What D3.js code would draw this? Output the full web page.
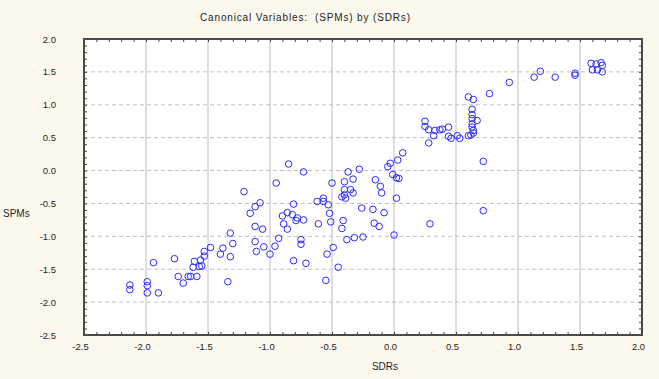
<!DOCTYPE html>
<html><head><meta charset="utf-8">
<script src="https://cdn.jsdelivr.net/npm/d3@7"></script>
<style>html,body{margin:0;padding:0;background:#fdf8ee;} svg{display:block;}</style>
</head><body><svg id="c" width="659" height="379"></svg>
<script>
const title = "Canonical Variables:  (SPMs) by (SDRs)";
const xLabel = "SDRs";
const yLabel = "SPMs";
const xTickValues = [-2.5, -2.0, -1.5, -1.0, -0.5, 0.0, 0.5, 1.0, 1.5, 2.0];
const yTickValues = [-2.5, -2.0, -1.5, -1.0, -0.5, 0.0, 0.5, 1.0, 1.5, 2.0];
// canonical scores: SDRs (x) and SPMs (y)
const sdrs = [-0.85,-0.95,-1.21,-1.08,-1.12,-1.16,-0.81,-0.86,-0.90,-0.82,-0.78,-0.79,-0.89,-0.86,-1.12,-1.06,-1.32,-1.30,-1.38,-1.40,
  -1.32,-1.48,-1.53,-1.53,-1.56,-1.61,-1.62,-1.57,-1.55,-1.77,-1.94,-1.12,-1.05,-1.11,-1.00,-0.96,-0.93,-0.81,-1.74,-1.66,
  -1.64,-1.59,-1.70,-1.34,-2.13,-2.13,-1.99,-1.99,-1.99,-1.90,
  -0.73,-0.37,-0.28,-0.50,-0.40,-0.33,-0.40,-0.40,-0.42,-0.39,-0.35,-0.33,-0.15,-0.11,-0.10,-0.05,-0.03,0.03,0.07,-0.01,
  0.02,0.04,0.02,0.28,-0.57,-0.57,-0.62,-0.53,-0.26,-0.17,-0.08,-0.52,-0.73,-0.61,-0.51,-0.41,-0.42,-0.16,-0.12,0.29,
  0.00,-0.25,-0.32,-0.38,-0.75,-0.75,-0.49,-0.54,-0.71,-0.45,-0.55,
  0.72,0.72,0.25,0.25,0.28,0.32,0.33,0.37,0.39,0.44,0.44,0.46,0.53,0.51,0.60,
  0.60,0.64,0.63,0.63,0.63,0.67,0.63,0.63,0.64,0.64,0.62,
  0.77,0.93,1.13,1.18,1.30,1.46,1.46,1.59,1.63,1.67,1.68,1.60,1.64,1.68];
const spms = [0.10,-0.19,-0.32,-0.49,-0.55,-0.65,-0.51,-0.64,-0.69,-0.67,-0.72,-0.76,-0.81,-0.89,-0.85,-0.89,-0.95,-1.11,-1.18,-1.27,
  -1.31,-1.17,-1.23,-1.30,-1.36,-1.38,-1.47,-1.46,-1.45,-1.34,-1.40,-1.08,-1.16,-1.23,-1.27,-1.15,-1.03,-1.37,-1.61,-1.61,
  -1.61,-1.61,-1.71,-1.69,-1.74,-1.81,-1.69,-1.75,-1.86,-1.86,
  -0.02,-0.02,0.02,-0.19,-0.17,-0.13,-0.29,-0.37,-0.40,-0.42,-0.29,-0.34,-0.14,-0.24,-0.34,0.06,0.11,0.16,0.27,-0.06,
  -0.11,-0.12,-0.42,0.42,-0.42,-0.47,-0.47,-0.52,-0.57,-0.59,-0.64,-0.65,-0.75,-0.81,-0.78,-0.76,-0.88,-0.80,-0.85,-0.81,
  -0.98,-1.01,-1.02,-1.05,-1.05,-1.12,-1.17,-1.27,-1.41,-1.47,-1.67,
  -0.61,0.14,0.75,0.67,0.62,0.53,0.61,0.62,0.63,0.66,0.52,0.49,0.49,0.53,0.53,
  1.12,1.08,0.93,0.85,0.79,0.76,0.71,0.66,0.61,0.57,0.54,
  1.17,1.34,1.42,1.51,1.42,1.48,1.45,1.63,1.62,1.64,1.60,1.53,1.53,1.50];

const svg = d3.select("#c");
const x = d3.scaleLinear().domain([-2.5, 2.0]).range([84, 642]);
const y = d3.scaleLinear().domain([-2.5, 2.0]).range([335, 39]);
const fmt = d => d.toFixed(1);
const minor = d3.range(-25, 21).map(i => i / 10);
const FONT = "Liberation Sans, Arial, sans-serif";

// plot background
svg.append("rect").attr("x", x(-2.5)).attr("y", y(2.0))
  .attr("width", x(2.0) - x(-2.5)).attr("height", y(-2.5) - y(2.0)).attr("fill", "#ffffff");

// grid
svg.append("g").selectAll("line").data(xTickValues.slice(1, -1)).join("line")
  .attr("x1", d => x(d)).attr("x2", d => x(d)).attr("y1", y(2.0)).attr("y2", y(-2.5))
  .attr("stroke", "#c8c8c8").attr("stroke-width", 1.2);
svg.append("g").selectAll("line").data(yTickValues.slice(1, -1)).join("line")
  .attr("y1", d => y(d)).attr("y2", d => y(d)).attr("x1", x(-2.5)).attr("x2", x(2.0))
  .attr("stroke", "#c0c0c0").attr("stroke-width", 1).attr("stroke-dasharray", "4,3");

// points
svg.append("g").selectAll("circle").data(sdrs.map((v, i) => [v, spms[i]])).join("circle")
  .attr("cx", d => x(d[0])).attr("cy", d => y(d[1])).attr("r", 3.3)
  .attr("fill", "none").attr("stroke", "#2a2aff").attr("stroke-width", 1);

// inward minor ticks on all four sides
function ticks(axis, tx, ty, size) {
  const g = svg.append("g").attr("transform", `translate(${tx},${ty})`)
    .call(axis.tickValues(minor).tickSize(size).tickFormat(""));
  g.select(".domain").remove();
  g.selectAll("line").attr("stroke", "#444").attr("stroke-width", 1);
}
ticks(d3.axisTop(x), 0, y(-2.5), 3);
ticks(d3.axisBottom(x), 0, y(2.0), 3);
ticks(d3.axisRight(y), x(-2.5), 0, 3);
ticks(d3.axisLeft(y), x(2.0), 0, 3);

// frame
svg.append("rect").attr("x", x(-2.5)).attr("y", y(2.0))
  .attr("width", x(2.0) - x(-2.5)).attr("height", y(-2.5) - y(2.0))
  .attr("fill", "none").attr("stroke", "#4a4a4a").attr("stroke-width", 2);

// tick labels
const xa = svg.append("g").attr("transform", `translate(-4,${y(-2.5) + 5})`)
  .call(d3.axisBottom(x).tickValues(xTickValues).tickSize(0).tickFormat(fmt));
xa.select(".domain").remove();
xa.selectAll("text").attr("font-family", FONT).attr("font-size", 9.5).attr("fill", "#1e1e1e");

const ya = svg.append("g").attr("transform", `translate(56,0)`)
  .call(d3.axisLeft(y).tickValues(yTickValues).tickSize(0).tickPadding(0).tickFormat(fmt));
ya.select(".domain").remove();
ya.selectAll("text").attr("font-family", FONT).attr("font-size", 9.5).attr("fill", "#1e1e1e");

// titles
svg.append("text").attr("x", 200).attr("y", 21).attr("text-anchor", "start")
  .style("white-space", "pre").attr("textLength", 210).attr("lengthAdjust", "spacing")
  .attr("font-family", FONT).attr("font-size", 10).attr("fill", "#1e1e1e").text(title);
svg.append("text").attr("x", 385).attr("y", 370).attr("text-anchor", "middle")
  .attr("font-family", FONT).attr("font-size", 10).attr("fill", "#1e1e1e").text(xLabel);
svg.append("text").attr("x", 3).attr("y", 217).attr("text-anchor", "start")
  .attr("font-family", FONT).attr("font-size", 10).attr("fill", "#1e1e1e").text(yLabel);
</script></body></html>
